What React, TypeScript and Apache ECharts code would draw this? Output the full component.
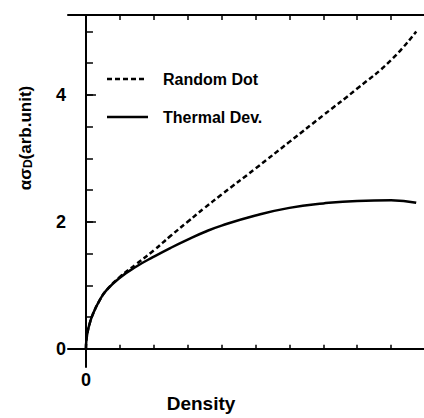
import React, { useEffect, useRef } from "react";
import * as echarts from "echarts";

const densityX = [0, 0.01, 0.05, 0.1, 0.2, 0.4, 0.6, 1.0, 1.5, 2, 2.5, 3, 3.5, 4, 5, 6, 7, 8, 9, 9.74];
const thermalDev = [0, 0.12, 0.27, 0.38, 0.54, 0.76, 0.92, 1.12, 1.3, 1.45, 1.59, 1.72, 1.84, 1.94, 2.1, 2.22, 2.29, 2.33, 2.34, 2.3];
const randomDot = [0, 0.12, 0.27, 0.38, 0.54, 0.76, 0.92, 1.13, 1.34, 1.55, 1.78, 2.0, 2.22, 2.43, 2.84, 3.26, 3.68, 4.1, 4.55, 5.0];
const seriesNames = ["Random Dot", "Thermal Dev."];
const xTicks = [1, 2, 3, 4, 5, 6, 7, 8, 9];
const xTopTicks = [0, 1, 2, 3, 4, 5, 6, 7, 8, 9];
const xLabels = [0];
const yTicks = [0, 0.5, 1, 1.5, 2, 2.5, 3, 3.5, 4, 4.5, 5];
const yMajor = [0, 2, 4];

const FONT = "Liberation Sans, Arial, sans-serif";

export default function App() {
  const ref = useRef<HTMLDivElement>(null);
  useEffect(() => {
    if (!ref.current) return;
    const chart = echarts.init(ref.current, null, { renderer: "svg" });
    const xMin = -0.53, xMax = 9.97, yMin = -0.29, yMax = 5.26;
    const lineAxis = { show: true, lineStyle: { color: "#000", width: 2 } };
    const legendText = { fontFamily: FONT, fontWeight: "bold", fontSize: 16, fill: "#000", verticalAlign: "middle", align: "left" };
    chart.setOption({
      animation: false,
      backgroundColor: "#fff",
      grid: { left: 68, top: 15, right: -1, bottom: 42, containLabel: false },
      xAxis: [
        {
          type: "value", min: xMin, max: xMax, position: "bottom",
          axisLine: lineAxis,
          axisTick: { show: true, inside: true, length: 4, customValues: xTicks, lineStyle: { color: "#000", width: 1.5 } },
          axisLabel: { show: true, customValues: xLabels, margin: 4, fontFamily: FONT, fontWeight: "bold", fontSize: 18, color: "#000" },
          splitLine: { show: false },
          name: "Density", nameLocation: "middle", nameGap: 23,
          nameTextStyle: { fontFamily: FONT, fontWeight: "bold", fontSize: 19, color: "#000", padding: [0, 90, 0, 0] },
        },
        {
          type: "value", min: xMin, max: xMax, position: "bottom",
          axisLine: { show: false },
          axisTick: { show: true, inside: true, length: 16, customValues: [0], lineStyle: { color: "#000", width: 1.5 } },
          axisLabel: { show: false },
          splitLine: { show: false },
        },
        {
          type: "value", min: xMin, max: xMax, position: "top",
          axisLine: lineAxis,
          axisTick: { show: true, inside: true, length: 5, customValues: xTopTicks, lineStyle: { color: "#000", width: 1.5 } },
          axisLabel: { show: false },
          splitLine: { show: false },
        },
      ],
      yAxis: [
        {
          type: "value", min: yMin, max: yMax, position: "left",
          axisLine: lineAxis,
          axisTick: { show: true, inside: true, length: 7, customValues: yTicks, lineStyle: { color: "#000", width: 1.5 } },
          axisLabel: { show: true, customValues: yMajor, margin: 2, fontFamily: FONT, fontWeight: "bold", fontSize: 18, color: "#000" },
          splitLine: { show: false },
        },
        {
          type: "value", min: yMin, max: yMax, position: "left",
          axisLine: { show: false },
          axisTick: { show: true, inside: true, length: 10, customValues: yMajor, lineStyle: { color: "#000", width: 1.5 } },
          axisLabel: { show: false },
          splitLine: { show: false },
        },
      ],
      graphic: [
        {
          type: "text",
          x: 25,
          y: 138,
          rotation: Math.PI / 2,
          style: {
            text: "ασ{s|D}(arb.unit)",
            fontFamily: FONT,
            fontWeight: "bold",
            fontSize: 17,
            fill: "#000",
            align: "center",
            verticalAlign: "middle",
            rich: { s: { fontFamily: FONT, fontWeight: "bold", fontSize: 12, fill: "#000", verticalAlign: "bottom", padding: [6, 0, 0, 0] } },
          },
        },
        {
          type: "line",
          shape: { x1: 107, y1: 79, x2: 144, y2: 79 },
          style: { stroke: "#000", lineWidth: 2.5, lineDash: [5, 3] },
        },
        { type: "text", x: 163, y: 79, style: { ...legendText, text: seriesNames[0] } },
        {
          type: "line",
          shape: { x1: 107, y1: 117, x2: 148, y2: 117 },
          style: { stroke: "#000", lineWidth: 2.5 },
        },
        { type: "text", x: 163, y: 117, style: { ...legendText, text: seriesNames[1] } },
      ],
      series: [
        {
          name: seriesNames[0],
          type: "line",
          xAxisIndex: 0, yAxisIndex: 0,
          data: densityX.map((x, i) => [x, randomDot[i]]),
          symbol: "none",
          smooth: 0.5,
          lineStyle: { color: "#000", width: 2.5, type: [5, 3] },
          itemStyle: { color: "#000" },
        },
        {
          name: seriesNames[1],
          type: "line",
          xAxisIndex: 0, yAxisIndex: 0,
          data: densityX.map((x, i) => [x, thermalDev[i]]),
          symbol: "none",
          smooth: 0.5,
          lineStyle: { color: "#000", width: 2.5, type: "solid" },
          itemStyle: { color: "#000" },
        },
      ],
    });
    return () => chart.dispose();
  }, []);
  return <div ref={ref} style={{ width: 424, height: 418, position: "absolute", left: 0, top: 0 }} />;
}
